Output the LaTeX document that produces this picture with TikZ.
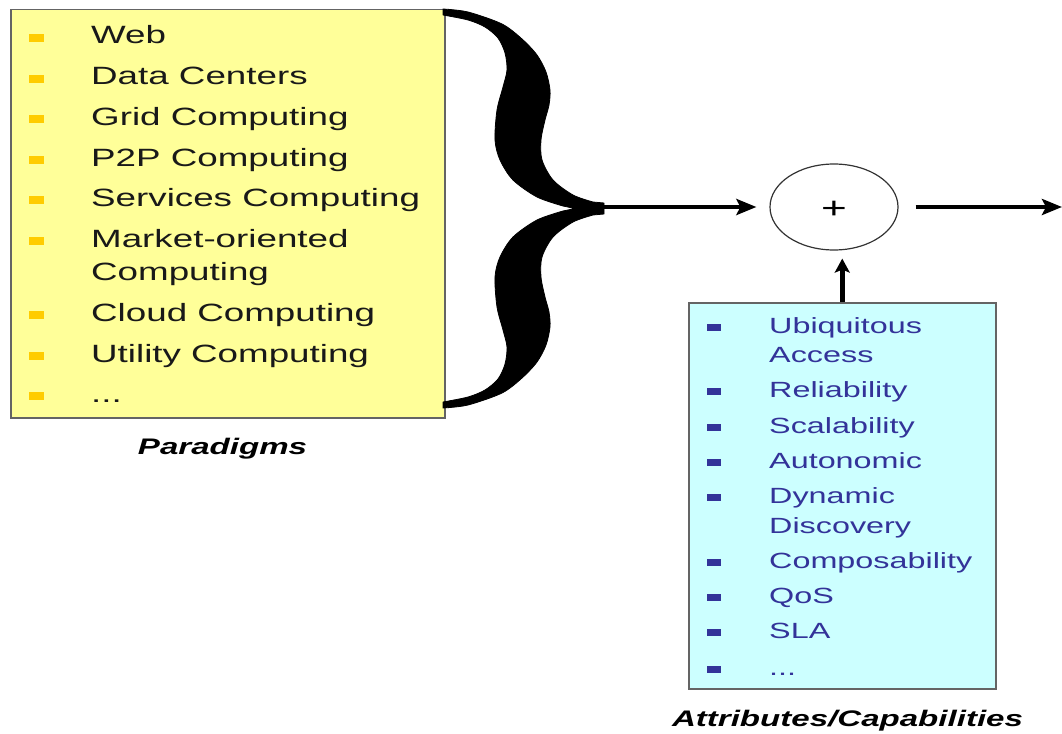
\documentclass[tikz,border=0pt]{standalone}
\usepackage{fontspec}
\setmainfont{Liberation Sans}[FakeStretch=1.47]
\usetikzlibrary{arrows.meta,shapes.geometric}

\definecolor{paperyellow}{RGB}{255,255,153}
\definecolor{papercyan}{RGB}{204,255,255}
\definecolor{bulletyellow}{RGB}{255,204,0}
\definecolor{attrblue}{RGB}{51,51,153}
\definecolor{boxline}{RGB}{100,100,100}

\begin{document}
\begin{tikzpicture}[x=1pt,y=-1pt,
  panel/.style={draw=boxline, line width=1.5pt, rectangle, inner sep=0pt, anchor=north west},
  ptext/.style={anchor=base west, inner sep=0pt, text=black!90, font=\fontsize{25pt}{30pt}\selectfont},
  atext/.style={anchor=base west, inner sep=0pt, text=attrblue, font=\fontsize{22pt}{27pt}\selectfont},
  ybul/.style={rectangle, fill=bulletyellow, minimum width=15pt, minimum height=8pt, inner sep=0pt},
  bbul/.style={rectangle, fill=attrblue, minimum width=14pt, minimum height=7pt, inner sep=0pt},
  caption/.style={anchor=base, inner sep=0pt, text=black, font=\fontsize{22.5pt}{27pt}\selectfont\bfseries\itshape},
  flow/.style={line width=4.5pt, -{Stealth[length=20pt, width=16pt, inset=4pt]}},
  flowup/.style={line width=4.5pt, -{Stealth[length=14pt, width=15pt, inset=3pt]}}
]
\useasboundingbox (0,0) rectangle (1062,733);

% paradigm panel and its list
\node[panel, fill=paperyellow, minimum width=434pt, minimum height=408pt] (paradigms) at (10,9) {};
\foreach \txt/\yy [count=\i] in {Web/44, Data Centers/85, Grid Computing/125, P2P Computing/166,
    Services Computing/206, Market-oriented/247, Cloud Computing/321, Utility Computing/362} {
  \node[ptext] (p\i) at (91,\yy) {\txt};
  \node[ybul] (pb\i) at (36.5,\yy-6) {};
}
\node[ptext] (p6b) at (91,280) {Computing};
\node[ptext] (pdots) at (91,402) {...};
\node[ybul] (pbdots) at (36.5,396) {};
\node[caption] (paracap) at (222.5,454) {Paradigms};

% attribute panel and its list
\node[panel, fill=papercyan, minimum width=307pt, minimum height=386pt] (attrs) at (688,302) {};
\foreach \txt/\yy [count=\i] in {Ubiquitous/333, Reliability/397, Scalability/433, Autonomic/468,
    Dynamic/503, Composability/568, QoS/603, SLA/638} {
  \node[atext] (a\i) at (769,\yy) {\txt};
  \node[bbul] (ab\i) at (714,\yy-5.5) {};
}
\node[atext] (a1b) at (769,362) {Access};
\node[atext] (a5b) at (769,533) {Discovery};
\node[atext] (adots) at (769,675) {...};
\node[bbul] (abdots) at (714,669.5) {};
\node[caption] (attrcap) at (847.5,726) {Attributes/Capabilities};

% the curly brace gathering the paradigms
\filldraw[black, line width=0.8pt, line join=round]
  (443,9) -- plot[smooth] coordinates {(443,9) (468,12) (502,24) (522,39) (537,55) (546,72) (550,90)
      (549,105) (545,120) (541,140) (542,160) (553,180) (573,195) (593,202)}
  -- (604,203) -- (604,214)
  -- plot[smooth] coordinates {(593,215) (573,222) (553,237) (542,257) (541,277) (545,297) (549,312)
      (550,327) (546,345) (537,362) (522,378) (502,393) (468,405) (443,408)}
  -- (443,402)
  -- plot[smooth] coordinates {(443,402) (468,397) (485,390) (498,379) (505,364) (507,347) (503,330)
      (497,307) (495,277) (500,257) (513,237) (537,220) (563,211)}
  -- (575,208.5)
  -- plot[smooth] coordinates {(563,206) (537,197) (513,180) (500,160) (495,140) (497,110) (503,87)
      (507,70) (505,53) (498,38) (485,27) (468,20) (443,15)}
  -- cycle;
\coordinate (tip) at (604,207);

% summing junction and the flow through it
\node[ellipse, draw=black!80, line width=1.2pt, minimum width=128pt, minimum height=86pt, inner sep=0pt] (sum) at (834,207) {};
\node[inner sep=0pt, font=\fontsize{30pt}{30pt}\selectfont] (plus) at ([yshift=-3pt]sum.center) {+};
\coordinate (out) at (1062,207);
\draw[flow] (tip) -- ([xshift=-13pt]sum.west |- tip);
\draw[flow] ([xshift=17pt]sum.east |- out) -- (out);
\draw[flowup] (attrs.north) -- ([yshift=-8pt]sum.south -| attrs.north);
\end{tikzpicture}
\end{document}
